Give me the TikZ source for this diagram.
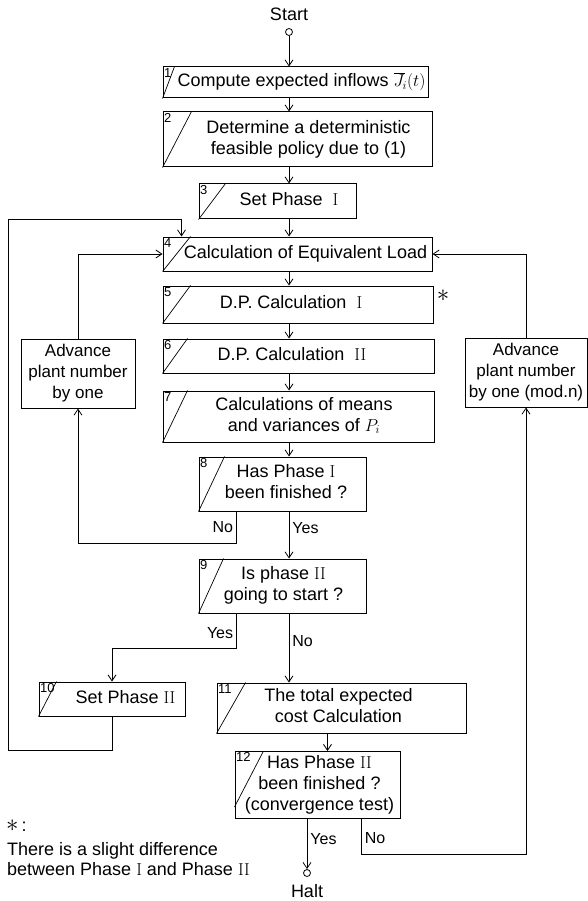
\documentclass[tikz,border=0pt]{standalone}
\usepackage[no-math]{fontspec}
\setmainfont{Liberation Sans}
\usepackage{tikz}
\usetikzlibrary{arrows.meta,positioning}
% box text pushed aside of the slash
\newcommand{\btext}[2]{\hspace*{#1}\begin{tabular}{@{}c@{}}#2\end{tabular}}
\tikzset{
    %Define standard arrow tip
    >={Straight Barb[length=6pt,width=8pt]},
    %Define style for boxes
    stepbox/.style={
           rectangle,
           draw=black, line width=1pt,
           inner sep=1pt,
           font=\fontsize{18}{21}\selectfont},
    numlbl/.style={
           anchor=north west,
           inner sep=1.5pt,
           font=\fontsize{13}{13}\selectfont},
    lbl/.style={
           inner sep=3pt,
           font=\fontsize{16}{16}\selectfont},
    endpt/.style={
           circle,
           draw=black, line width=0.8pt,
           minimum size=7pt,
           inner sep=0pt},
    % Define arrow style
    pil/.style={
           ->,
           line width=0.8pt}
}
\begin{document}
\begin{tikzpicture}[x=1pt,y=-1pt]
\useasboundingbox (0,0) rectangle (588,901);
 %nodes
\node[lbl, font=\fontsize{18}{18}\selectfont] (start) at (289,14) {Start};
\node[endpt] (o1) at (289,32) {};
\node[stepbox, minimum width=265pt, minimum height=31pt] (b1) at (295.5,82.5) {\btext{12pt}{Compute expected inflows $\overline{J}_{\!i}(t)$}};
\node[stepbox, minimum width=269pt, minimum height=55pt] (b2) at (297.5,139.5) {\btext{22pt}{Determine a deterministic\\feasible policy due to (1)}};
\node[stepbox, minimum width=157pt, minimum height=35pt] (b3) at (277.5,201.5) {\btext{23pt}{Set Phase \ $\mathrm{I}$}};
\node[stepbox, minimum width=269pt, minimum height=34pt] (b4) at (297.5,254) {\btext{16pt}{Calculation of Equivalent Load}};
\node[stepbox, minimum width=270pt, minimum height=37pt] (b5) at (298,304.5) {\btext{-14pt}{D.P. Calculation \ $\mathrm{I}$}};
\node[stepbox, minimum width=271pt, minimum height=34pt] (b6) at (298.5,356) {\btext{-13pt}{D.P. Calculation \ $\mathrm{II}$}};
\node[stepbox, minimum width=271pt, minimum height=51pt] (b7) at (298.5,416.5) {\btext{11pt}{Calculations of means\\and variances of $P_i$}};
\node[stepbox, minimum width=167pt, minimum height=54pt] (b8) at (282.5,484) {\btext{7pt}{Has Phase $\mathrm{I}$\\been finished ?}};
\node[stepbox, minimum width=167pt, minimum height=54pt] (b9) at (282.5,586) {\btext{2pt}{Is phase $\mathrm{II}$\\going to start ?}};
\node[stepbox, minimum width=146pt, minimum height=34pt] (b10) at (112,699) {\btext{27pt}{Set Phase $\mathrm{II}$}};
\node[stepbox, minimum width=249pt, minimum height=50pt] (b11) at (341.5,708) {\btext{-6pt}{The total expected\\cost Calculation}};
\node[stepbox, minimum width=165pt, minimum height=67pt] (b12) at (317.5,785) {\btext{4pt}{Has Phase $\mathrm{II}$\\been finished ?\\(convergence test)}};
\node[stepbox, minimum width=114pt, minimum height=69pt, font=\fontsize{17}{21}\selectfont] (advl) at (78,373.5) {\btext{0pt}{Advance\\plant number\\by one}};
\node[stepbox, minimum width=122pt, minimum height=69pt, font=\fontsize{17}{21}\selectfont, inner sep=0pt] (advr) at (526,372.5) {\btext{0pt}{Advance\\plant number\\by one (mod.n)}};
\node[endpt] (o2) at (307,873) {};
\node[lbl, font=\fontsize{18}{18}\selectfont] (halt) at (307,891) {Halt};
\node[font=\fontsize{28}{28}\selectfont, inner sep=0pt] (star) at (443,296) {$\ast$};
\node[anchor=west, inner sep=0pt, font=\fontsize{18}{18}\selectfont] (note) at (6,826) {\fontsize{26}{26}\selectfont$\ast$\fontsize{18}{18}\selectfont\,:};
\node[anchor=north west, align=left, inner sep=0pt, font=\fontsize{18}{20}\selectfont] (notetext) at (7,842) {There is a slight difference\\between Phase $\mathrm{I}$ and Phase $\mathrm{II}$};
 %numbers and slashes
\foreach \b/\n/\d in {b1/1/12,b2/2/29,b3/3/27,b4/4/28,b5/5/28,b6/6/25,b7/7/25,b8/8/26,b9/9/25,b10/10/18,b11/11/29} {
  \node[numlbl] at (\b.north west) {\n};
  \draw[line width=0.7pt] ([xshift=\d pt]\b.north west) -- (\b.south west);
}
\node[numlbl] at (b12.north west) {12};
\draw[line width=0.7pt] ([xshift=29pt]b12.north west) -- ([yshift=12pt]b12.south west);
 %main line
\draw[pil] (o1) -- (b1.north -| o1);
\foreach \a/\c in {b1/b2,b2/b3,b3/b4,b4/b5,b5/b6,b6/b7,b7/b8}
  \draw[pil] (\a.south -| o1) -- (\c.north -| o1);
\draw[pil] (b8.south -| o1) -- (b9.north -| o1) node[lbl, pos=0.35, right] {Yes};
\draw[pil] (b9.south -| o1) -- (b11.north -| o1) node[lbl, pos=0.4, right] {No};
\coordinate (c12) at ([xshift=10pt]b12.north);
\draw[pil] (c12 |- b11.south) -- (c12);
\draw[pil] (b12.south -| o2) -- (o2) node[lbl, pos=0.4, right] {Yes};
 %loops
\draw[pil] ([xshift=38pt]b8.south west) -- ++(0,32) node[lbl, pos=0.5, left] {No} -| (advl.south);
\draw[pil] (advl.north) |- (b4.west);
\draw[pil] ([xshift=38pt]b9.south west) -- ++(0,35) node[lbl, pos=0.55, left] {Yes} -| (b10.north);
\draw[pil] (b10.south) -- ++(0,34) -| (8,219) -| ([xshift=19pt]b4.north west);
\draw[pil] ([xshift=-39pt]b12.south east) -- ++(0,35) node[lbl, pos=0.55, right] {No} -| (advr.south);
\draw[pil] (advr.north) |- (b4.east);
\end{tikzpicture}
\end{document}
